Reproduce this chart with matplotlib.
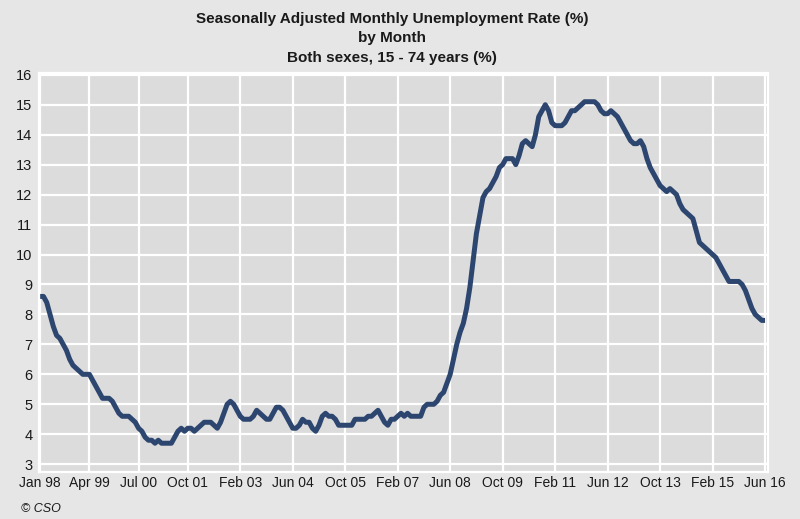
import matplotlib
matplotlib.use("Agg")
import matplotlib.pyplot as plt

# ── Style ──────────────────────────────────────────────
BG = "#e6e6e6"
PLOT_BG = "#dcdcdc"
LINE = "#2d4670"
FG = "#1a1a1a"

plt.rcParams.update({
    "font.family": ["Liberation Sans", "DejaVu Sans"],
    "font.size": 10,
    "text.color": FG,
    "xtick.color": FG,
    "ytick.color": FG,
})

# ── Data (monthly, Jan 1998 - Jun 2016) ────────────────
rate_1998 = [8.6, 8.6, 8.4, 8.0, 7.6, 7.3, 7.2, 7.0, 6.8, 6.5, 6.3, 6.2]
rate_1999 = [6.1, 6.0, 6.0, 6.0, 5.8, 5.6, 5.4, 5.2, 5.2, 5.2, 5.1, 4.9]
rate_2000 = [4.7, 4.6, 4.6, 4.6, 4.5, 4.4, 4.2, 4.1, 3.9, 3.8, 3.8, 3.7]
rate_2001 = [3.8, 3.7, 3.7, 3.7, 3.7, 3.9, 4.1, 4.2, 4.1, 4.2, 4.2, 4.1]
rate_2002 = [4.2, 4.3, 4.4, 4.4, 4.4, 4.3, 4.2, 4.4, 4.7, 5.0, 5.1, 5.0]
rate_2003 = [4.8, 4.6, 4.5, 4.5, 4.5, 4.6, 4.8, 4.7, 4.6, 4.5, 4.5, 4.7]
rate_2004 = [4.9, 4.9, 4.8, 4.6, 4.4, 4.2, 4.2, 4.3, 4.5, 4.4, 4.4, 4.2]
rate_2005 = [4.1, 4.3, 4.6, 4.7, 4.6, 4.6, 4.5, 4.3, 4.3, 4.3, 4.3, 4.3]
rate_2006 = [4.5, 4.5, 4.5, 4.5, 4.6, 4.6, 4.7, 4.8, 4.6, 4.4, 4.3, 4.5]
rate_2007 = [4.5, 4.6, 4.7, 4.6, 4.7, 4.6, 4.6, 4.6, 4.6, 4.9, 5.0, 5.0]
rate_2008 = [5.0, 5.1, 5.3, 5.4, 5.7, 6.0, 6.5, 7.0, 7.4, 7.7, 8.2, 8.9]
rate_2009 = [9.8, 10.7, 11.3, 11.9, 12.1, 12.2, 12.4, 12.6, 12.9, 13.0, 13.2, 13.2]
rate_2010 = [13.2, 13.0, 13.3, 13.7, 13.8, 13.7, 13.6, 14.0, 14.6, 14.8, 15.0, 14.8]
rate_2011 = [14.4, 14.3, 14.3, 14.3, 14.4, 14.6, 14.8, 14.8, 14.9, 15.0, 15.1, 15.1]
rate_2012 = [15.1, 15.1, 15.0, 14.8, 14.7, 14.7, 14.8, 14.7, 14.6, 14.4, 14.2, 14.0]
rate_2013 = [13.8, 13.7, 13.7, 13.8, 13.6, 13.2, 12.9, 12.7, 12.5, 12.3, 12.2, 12.1]
rate_2014 = [12.2, 12.1, 12.0, 11.7, 11.5, 11.4, 11.3, 11.2, 10.8, 10.4, 10.3, 10.2]
rate_2015 = [10.1, 10.0, 9.9, 9.7, 9.5, 9.3, 9.1, 9.1, 9.1, 9.1, 9.0, 8.8]
rate_2016 = [8.5, 8.2, 8.0, 7.9, 7.8, 7.8]

rates = (rate_1998 + rate_1999 + rate_2000 + rate_2001 + rate_2002 + rate_2003
         + rate_2004 + rate_2005 + rate_2006 + rate_2007 + rate_2008 + rate_2009
         + rate_2010 + rate_2011 + rate_2012 + rate_2013 + rate_2014 + rate_2015
         + rate_2016)

tick_labels = ["Jan 98", "Apr 99", "Jul 00", "Oct 01", "Feb 03", "Jun 04",
               "Oct 05", "Feb 07", "Jun 08", "Oct 09", "Feb 11", "Jun 12",
               "Oct 13", "Feb 15", "Jun 16"]
month_names = ["Jan", "Feb", "Mar", "Apr", "May", "Jun",
               "Jul", "Aug", "Sep", "Oct", "Nov", "Dec"]

# month index for every point, and tick positions looked up from labels
months = list(range(len(rates)))
tick_pos = [(2000 + int(t[4:]) - (100 if int(t[4:]) > 50 else 0) - 1998) * 12
            + month_names.index(t[:3]) for t in tick_labels]

# ── Figure ─────────────────────────────────────────────
fig = plt.figure(figsize=(8.0, 5.19), dpi=100, facecolor=BG)
ax = fig.add_axes([0.049, 0.09, 0.911, 0.77])
ax.set_facecolor(PLOT_BG)

ax.plot(months, rates, color=LINE, linewidth=3.6, solid_joinstyle="round",
        solid_capstyle="butt", zorder=3)

ax.set_xlim(-0.3, 221.9)
ax.set_ylim(2.73, 16.07)
ax.set_yticks(range(3, 17))
ax.set_xticks(tick_pos)
ax.set_xticklabels(tick_labels, fontsize=10)
ax.tick_params(axis="y", labelsize=10.5, length=0, pad=5)
ax.tick_params(axis="x", length=0, pad=3)

ax.grid(True, color="white", linewidth=1.6, zorder=1)
ax.set_axisbelow(True)
for s in ax.spines.values():
    s.set_color("white")
    s.set_linewidth(1.6)

fig.text(0.49, 0.977, "Seasonally Adjusted Monthly Unemployment Rate (%)\nby Month\nBoth sexes, 15 - 74 years (%)",
         ha="center", va="top", fontsize=11, fontweight="bold", linespacing=1.5)
fig.text(0.026, 0.019, "\u00a9 CSO", ha="left", va="center", fontsize=9, style="italic")

fig.savefig("out.png", dpi=100, facecolor=BG)
